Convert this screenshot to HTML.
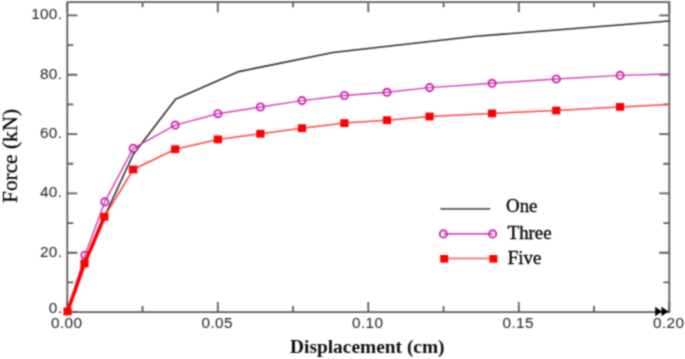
<!DOCTYPE html><html><head><meta charset="utf-8"><style>html,body{margin:0;padding:0;background:#fff;width:685px;height:359px;overflow:hidden}svg{display:block}</style></head><body>
<svg width="685" height="359" viewBox="0 0 685 359">
<defs><filter id="bl" x="0" y="0" width="685" height="359" filterUnits="userSpaceOnUse" color-interpolation-filters="sRGB"><feConvolveMatrix order="3" kernelMatrix="0.04938 0.12346 0.04938 0.12346 0.30864 0.12346 0.04938 0.12346 0.04938" divisor="1" edgeMode="duplicate" preserveAlpha="false"/></filter></defs>
<rect width="685" height="359" fill="#fff"/>
<g filter="url(#bl)">
<g stroke="#5e5e5e" stroke-width="1.8" fill="none" stroke-linecap="butt">
<path d="M67.3,312.1 L67.3,2.2 L669.3,2.2 L669.3,312.1 L67.3,312.1"/>
<path d="M67.3,312.10 h10 M669.3,312.10 h-10"/>
<path d="M67.3,282.43 h6 M669.3,282.43 h-6"/>
<path d="M67.3,252.76 h10 M669.3,252.76 h-10"/>
<path d="M67.3,223.09 h6 M669.3,223.09 h-6"/>
<path d="M67.3,193.42 h10 M669.3,193.42 h-10"/>
<path d="M67.3,163.75 h6 M669.3,163.75 h-6"/>
<path d="M67.3,134.08 h10 M669.3,134.08 h-10"/>
<path d="M67.3,104.41 h6 M669.3,104.41 h-6"/>
<path d="M67.3,74.74 h10 M669.3,74.74 h-10"/>
<path d="M67.3,45.07 h6 M669.3,45.07 h-6"/>
<path d="M67.3,15.40 h10 M669.3,15.40 h-10"/>
<path d="M67.30,312.1 v-10 M67.30,2.2 v10"/>
<path d="M142.55,312.1 v-6 M142.55,2.2 v5"/>
<path d="M217.80,312.1 v-10 M217.80,2.2 v10"/>
<path d="M293.05,312.1 v-6 M293.05,2.2 v5"/>
<path d="M368.30,312.1 v-10 M368.30,2.2 v10"/>
<path d="M443.55,312.1 v-6 M443.55,2.2 v5"/>
<path d="M518.80,312.1 v-10 M518.80,2.2 v10"/>
<path d="M594.05,312.1 v-6 M594.05,2.2 v5"/>
<path d="M669.30,312.1 v-10 M669.30,2.2 v10"/>
</g>
<polyline points="67.5,311.5 84.5,263.6 104.4,216.8 133.2,154.5 175.5,99.2 238.8,71.6 333,52.5 476,36.3 669.3,21" fill="none" stroke="#303030" stroke-width="1.6" stroke-linejoin="round"/>
<polyline points="67.5,311.5 84.9,255.2 104.8,201.9 133.2,148.4 175.2,125.1 217.9,113.7 260.4,107 302,100.6 344.4,95.5 387,92.3 429.6,87.6 492.1,83.3 556.3,79 620.1,75.4 669.3,74" fill="none" stroke="#d840b8" stroke-width="1.45" stroke-linejoin="round"/>
<circle cx="84.9" cy="255.2" r="3.6" fill="none" stroke="#d028b0" stroke-width="1.9"/>
<circle cx="104.8" cy="201.9" r="3.6" fill="none" stroke="#d028b0" stroke-width="1.9"/>
<circle cx="133.2" cy="148.4" r="3.6" fill="none" stroke="#d028b0" stroke-width="1.9"/>
<circle cx="175.2" cy="125.1" r="3.6" fill="none" stroke="#d028b0" stroke-width="1.9"/>
<circle cx="217.9" cy="113.7" r="3.6" fill="none" stroke="#d028b0" stroke-width="1.9"/>
<circle cx="260.4" cy="107" r="3.6" fill="none" stroke="#d028b0" stroke-width="1.9"/>
<circle cx="302" cy="100.6" r="3.6" fill="none" stroke="#d028b0" stroke-width="1.9"/>
<circle cx="344.4" cy="95.5" r="3.6" fill="none" stroke="#d028b0" stroke-width="1.9"/>
<circle cx="387" cy="92.3" r="3.6" fill="none" stroke="#d028b0" stroke-width="1.9"/>
<circle cx="429.6" cy="87.6" r="3.6" fill="none" stroke="#d028b0" stroke-width="1.9"/>
<circle cx="492.1" cy="83.3" r="3.6" fill="none" stroke="#d028b0" stroke-width="1.9"/>
<circle cx="556.3" cy="79" r="3.6" fill="none" stroke="#d028b0" stroke-width="1.9"/>
<circle cx="620.1" cy="75.4" r="3.6" fill="none" stroke="#d028b0" stroke-width="1.9"/>
<polyline points="104.4,216.8 133.2,169.5 175.2,149.2 217.9,139.4 260.4,133.8 302,128.2 344.4,123.1 387,120.2 429.6,116.5 492.1,113.4 556.3,110.5 620.1,106.9 669.3,104.5" fill="none" stroke="#ff4646" stroke-width="1.5" stroke-linejoin="round"/>
<polyline points="67.5,311.5 84.5,263.6 104.4,216.8" fill="none" stroke="#ff0000" stroke-width="3.6" stroke-linejoin="round"/>
<rect x="63.40" y="307.60" width="8.2" height="7.8" fill="#ff0000"/>
<rect x="80.40" y="259.70" width="8.2" height="7.8" fill="#ff0000"/>
<rect x="100.30" y="212.90" width="8.2" height="7.8" fill="#ff0000"/>
<rect x="129.10" y="165.60" width="8.2" height="7.8" fill="#ff0000"/>
<rect x="171.10" y="145.30" width="8.2" height="7.8" fill="#ff0000"/>
<rect x="213.80" y="135.50" width="8.2" height="7.8" fill="#ff0000"/>
<rect x="256.30" y="129.90" width="8.2" height="7.8" fill="#ff0000"/>
<rect x="297.90" y="124.30" width="8.2" height="7.8" fill="#ff0000"/>
<rect x="340.30" y="119.20" width="8.2" height="7.8" fill="#ff0000"/>
<rect x="382.90" y="116.30" width="8.2" height="7.8" fill="#ff0000"/>
<rect x="425.50" y="112.60" width="8.2" height="7.8" fill="#ff0000"/>
<rect x="488.00" y="109.50" width="8.2" height="7.8" fill="#ff0000"/>
<rect x="552.20" y="106.60" width="8.2" height="7.8" fill="#ff0000"/>
<rect x="616.00" y="103.00" width="8.2" height="7.8" fill="#ff0000"/>
<path d="M655.2,306.8 L662,311.5 L655.2,316.2 Z M661.5,306.8 L668.5,311.5 L661.5,316.2 Z" fill="#000"/>
<g font-family="Liberation Sans, sans-serif" font-size="14.1" letter-spacing="0.3" fill="#2a2a2a" stroke="#2a2a2a" stroke-width="0.05">
<text transform="translate(62.33,312.70) scale(1.09,1)" text-anchor="end">0.</text>
<text transform="translate(62.33,256.66) scale(1.09,1)" text-anchor="end">20.</text>
<text transform="translate(62.33,197.32) scale(1.09,1)" text-anchor="end">40.</text>
<text transform="translate(62.33,137.98) scale(1.09,1)" text-anchor="end">60.</text>
<text transform="translate(62.33,78.64) scale(1.09,1)" text-anchor="end">80.</text>
<text transform="translate(62.33,19.30) scale(1.09,1)" text-anchor="end">100.</text>
<text transform="translate(66.66,327.6) scale(1.09,1)" text-anchor="middle">0.00</text>
<text transform="translate(217.16,327.6) scale(1.09,1)" text-anchor="middle">0.05</text>
<text transform="translate(367.66,327.6) scale(1.09,1)" text-anchor="middle">0.10</text>
<text transform="translate(518.16,327.6) scale(1.09,1)" text-anchor="middle">0.15</text>
<text transform="translate(668.66,327.6) scale(1.09,1)" text-anchor="middle">0.20</text>
</g>
<text x="367.3" y="353.0" font-family="Liberation Serif, serif" font-weight="bold" font-size="19.4" text-anchor="middle" fill="#111">Displacement (cm)</text>
<text transform="translate(17.2,155.9) rotate(-90)" font-family="Liberation Serif, serif" font-size="21.3" stroke="#000" stroke-width="0.25" text-anchor="middle" fill="#000">Force (kN)</text>
<line x1="440.4" y1="208.8" x2="490.3" y2="208.8" stroke="#5a5a5a" stroke-width="1.7"/>
<line x1="443.4" y1="233.9" x2="492.6" y2="233.9" stroke="#dc48c0" stroke-width="1.6"/>
<circle cx="443.4" cy="233.9" r="3.6" fill="none" stroke="#d028b0" stroke-width="1.9"/>
<circle cx="492.6" cy="233.9" r="3.6" fill="none" stroke="#d028b0" stroke-width="1.9"/>
<line x1="444.2" y1="258.6" x2="493.4" y2="258.6" stroke="#ff5555" stroke-width="1.5"/>
<rect x="440.2" y="255" width="8" height="7.6" fill="#ff0000"/>
<rect x="489.4" y="255" width="8" height="7.6" fill="#ff0000"/>
<g font-family="Liberation Serif, serif" font-size="18.9" fill="#000" stroke="#000" stroke-width="0.3">
<text x="506.0" y="211.9">One</text>
<text x="507.6" y="238.6">Three</text>
<text x="507.8" y="263.5">Five</text>
</g>
</g></svg></body></html>
